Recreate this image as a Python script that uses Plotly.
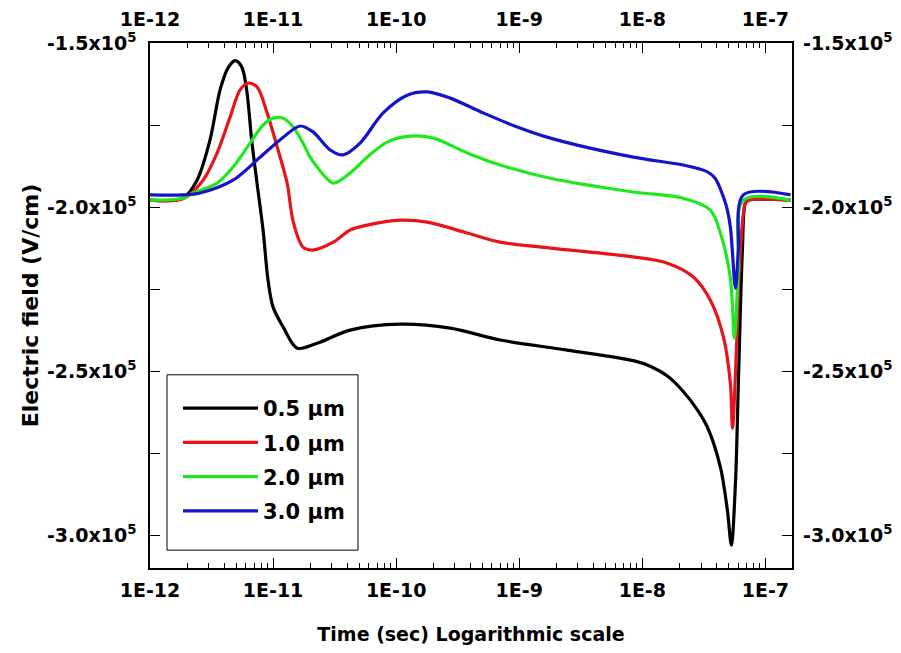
import plotly.graph_objects as go

# ---- data (time in s, field in units of 1e5 V/cm) ----
t_05 = [1e-12, 1.85e-12, 2.41e-12, 3.07e-12, 3.71e-12, 4.31e-12, 4.91e-12, 5.55e-12, 6.1e-12, 6.7e-12,
        7.35e-12, 8.29e-12, 9.1e-12, 1.0e-11, 1.21e-11, 1.57e-11, 2.28e-11, 4.23e-11, 1.08e-10, 2.75e-10,
        7.01e-10, 2.45e-9, 8.45e-9, 1.16e-8, 1.6e-8, 2.15e-8, 2.8e-8, 3.38e-8, 4.31e-8, 4.91e-8, 5.29e-8,
        5.71e-8, 6.03e-8, 6.5e-8, 6.87e-8, 7.27e-8, 1.6e-7]
e_05 = [-1.979, -1.973, -1.918, -1.796, -1.643, -1.576, -1.554, -1.572, -1.643, -1.796,
        -1.918, -2.070, -2.223, -2.305, -2.366, -2.430, -2.415, -2.375, -2.357, -2.369,
        -2.405, -2.436, -2.468, -2.485, -2.515, -2.562, -2.618, -2.671, -2.793, -2.924, -3.030,
        -2.841, -2.537, -2.131, -1.988, -1.979, -1.979]

t_10 = [1e-12, 1.85e-12, 2.7e-12, 3.51e-12, 4.47e-12, 5.39e-12, 6.26e-12, 7.41e-12, 8.94e-12, 1.08e-11,
        1.3e-11, 1.46e-11, 1.75e-11, 2.11e-11, 3.08e-11, 4.23e-11, 5.81e-11, 1.08e-10, 1.79e-10, 3.78e-10,
        7.01e-10, 1.79e-9, 8.45e-9, 1.6e-8, 2.6e-8, 3.57e-8, 4.56e-8, 5.19e-8, 5.4e-8, 5.81e-8,
        6.15e-8, 6.87e-8, 7.27e-8, 1.6e-7]
e_10 = [-1.979, -1.975, -1.918, -1.835, -1.726, -1.643, -1.622, -1.634, -1.713, -1.817,
        -1.927, -2.046, -2.122, -2.131, -2.107, -2.070, -2.055, -2.040, -2.046, -2.079,
        -2.107, -2.125, -2.152, -2.171, -2.213, -2.284, -2.396, -2.537, -2.674, -2.436,
        -2.183, -1.988, -1.979, -1.979]

t_20 = [1e-12, 1.85e-12, 2.24e-12, 3.51e-12, 4.73e-12, 6.5e-12, 8.29e-12, 1.0e-11, 1.21e-11, 1.46e-11,
        1.75e-11, 2.0e-11, 2.28e-11, 3.08e-11, 4.23e-11, 5.81e-11, 8.45e-11, 1.3e-10, 2.0e-10, 3.78e-10,
        7.01e-10, 1.79e-9, 8.45e-9, 2.15e-8, 3.57e-8, 4.31e-8, 5.19e-8, 5.6e-8, 6.03e-8, 6.62e-8,
        1.6e-7]
e_20 = [-1.979, -1.973, -1.957, -1.927, -1.878, -1.805, -1.750, -1.729, -1.729, -1.756,
        -1.805, -1.848, -1.878, -1.927, -1.896, -1.848, -1.802, -1.784, -1.790, -1.835,
        -1.872, -1.912, -1.954, -1.973, -2.009, -2.079, -2.216, -2.399, -2.192, -1.979,
        -1.979]

t_30 = [1e-12, 1.85e-12, 2.55e-12, 4.73e-12, 7.84e-12, 1.21e-11, 1.66e-11, 2.11e-11, 2.91e-11, 3.71e-11,
        5.09e-11, 7.84e-11, 1.23e-10, 1.79e-10, 2.75e-10, 5.09e-10, 9.63e-10, 1.79e-9, 8.45e-9, 2.15e-8,
        3.38e-8, 3.9e-8, 4.31e-8, 4.8e-8, 5.19e-8, 5.71e-8, 6.03e-8, 6.62e-8, 1.6e-7]
e_30 = [-1.963, -1.963, -1.957, -1.918, -1.848, -1.787, -1.753, -1.771, -1.826, -1.841,
        -1.805, -1.713, -1.659, -1.649, -1.668, -1.713, -1.756, -1.790, -1.848, -1.872,
        -1.893, -1.912, -1.945, -1.995, -2.061, -2.247, -2.131, -1.963, -1.963]

series_names = ["0.5 μm", "1.0 μm", "2.0 μm", "3.0 μm"]
series_colors = ["#000000", "#e8141b", "#1ee81e", "#1414c8"]

x_tickvals = [1e-12, 1e-11, 1e-10, 1e-9, 1e-8, 1e-7]
x_ticktext = ["1E-12", "1E-11", "1E-10", "1E-9", "1E-8", "1E-7"]
x_minorvals = [m * 10.0 ** d for d in range(-12, -6) for m in range(2, 10) if m * 10.0 ** d < 1.6e-7]
y_tickvals = [-1.5e5, -2.0e5, -2.5e5, -3.0e5]
y_ticktext = ["-1.5x10<sup>5</sup>", "-2.0x10<sup>5</sup>", "-2.5x10<sup>5</sup>", "-3.0x10<sup>5</sup>"]

times = [t_05, t_10, t_20, t_30]
fields = [e_05, e_10, e_20, e_30]

FONT = "DejaVu Sans, Liberation Sans, Arial, sans-serif"

fig = go.Figure()
for i, (t, e) in enumerate(zip(times, fields)):
    fig.add_trace(go.Scatter(
        x=t, y=[v * 1e5 for v in e], mode="lines", name=series_names[i],
        legendgroup="g%d" % i,
        line=dict(color=series_colors[i], width=3.2, shape="spline", smoothing=0.9),
    ))

# helper invisible trace for secondary (label-only) axes
fig.add_trace(go.Scatter(x=[1e-11], y=[-2e5], xaxis="x2", yaxis="y2", mode="markers",
                         marker=dict(opacity=0), showlegend=False, hoverinfo="skip"))

xr = [-12, -6.784]
yr = [-3.1e5, -1.5e5]
xtickfont = dict(family=FONT, size=19, color="black", weight="bold")
ytickfont = dict(family=FONT, size=19, color="black", weight="bold")

# legend frame (drawn as a rectangle so the box padding matches)
fig.add_shape(type="rect", xref="paper", yref="paper", x0=0.0265, x1=0.324, y0=0.034, y1=0.368,
              line=dict(color="black", width=1), fillcolor="rgba(0,0,0,0)", layer="above")

fig.update_layout(
    width=901, height=653,
    margin=dict(l=142, r=117, t=35, b=93),
    paper_bgcolor="white", plot_bgcolor="white",
    showlegend=True,
    legend=dict(x=0.0436, y=0.343, xanchor="left", yanchor="top",
                borderwidth=0, bgcolor="rgba(0,0,0,0)",
                font=dict(family=FONT, size=21, color="black", weight="bold"),
                tracegroupgap=4, itemwidth=75),
    xaxis=dict(type="log", range=xr, tickvals=x_tickvals, ticktext=x_ticktext,
               ticks="inside", ticklen=10, tickwidth=1.3, tickcolor="black",
               minor=dict(ticks="inside", ticklen=5, tickwidth=1.2, tickcolor="black",
                          tickvals=x_minorvals),
               showline=True, linecolor="black", linewidth=1.5, mirror="ticks",
               showgrid=False, zeroline=False, tickfont=xtickfont, automargin=False,
               ticklabelstandoff=4,
               title=dict(text="Time (sec) Logarithmic scale", standoff=28,
                          font=dict(family=FONT, size=19, color="black", weight="bold"))),
    yaxis=dict(range=yr, tickvals=y_tickvals, ticktext=y_ticktext,
               ticks="inside", ticklen=10, tickwidth=1.3, tickcolor="black",
               minor=dict(ticks="inside", ticklen=10, tickwidth=1.2, tickcolor="black", dtick=25000),
               showline=True, linecolor="black", linewidth=1.5, mirror="ticks",
               showgrid=False, zeroline=False, tickfont=ytickfont, automargin=False,
               ticklabelstandoff=8,
               title=dict(text="Electric field (V/cm)", standoff=2,
                          font=dict(family=FONT, size=22, color="black", weight="bold"))),
    xaxis2=dict(type="log", range=xr, overlaying="x", side="top", anchor="y2",
                tickvals=x_tickvals, ticktext=x_ticktext, ticks="", showline=False,
                showgrid=False, zeroline=False, tickfont=xtickfont, automargin=False,
                ticklabelstandoff=12),
    yaxis2=dict(range=yr, overlaying="y", side="right", anchor="x2",
                tickvals=y_tickvals, ticktext=y_ticktext, ticks="", showline=False,
                showgrid=False, zeroline=False, tickfont=ytickfont, automargin=False,
                ticklabelstandoff=10),
)

fig.write_html("out.html")
